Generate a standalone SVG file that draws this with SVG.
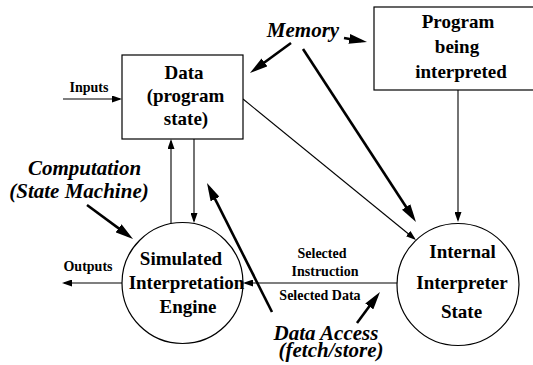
<svg xmlns="http://www.w3.org/2000/svg" width="533" height="365" viewBox="0 0 533 365">
<style>
.node{fill:#fff;stroke:#000;stroke-width:1.2}
.big{font-family:'Liberation Serif','DejaVu Serif','Noto Serif',serif;font-weight:bold;font-size:19px;text-anchor:middle;fill:#000}
.small{font-family:'Liberation Serif','DejaVu Serif','Noto Serif',serif;font-weight:bold;font-size:14px;text-anchor:middle;fill:#000}
.ital{font-family:'Liberation Serif','DejaVu Serif','Noto Serif',serif;font-weight:bold;font-style:italic;font-size:21px;text-anchor:middle;fill:#000}
.thin{stroke:#000;stroke-width:1.1;fill:none;marker-end:url(#ah)}
.thick{stroke:#000;stroke-width:2.6;fill:none;marker-end:url(#ahb)}
</style>
<defs>
<marker id="ah" markerUnits="userSpaceOnUse" markerWidth="10" markerHeight="7" refX="8" refY="3.5" orient="auto"><path d="M0,0 L10,3.5 L0,7 z" fill="#000"/></marker>
<marker id="ahb" markerUnits="userSpaceOnUse" markerWidth="18" markerHeight="10" refX="12" refY="5" orient="auto"><path d="M0,0 L18,5 L0,10 z" fill="#000"/></marker>
</defs>
<rect width="533" height="365" fill="#fff"/>
<g id="connectors">
<line class="thin" x1="63" y1="99" x2="120" y2="99"/>
<line class="thin" x1="122" y1="283" x2="64" y2="283"/>
<line class="thin" x1="398" y1="283" x2="245" y2="283"/>
<line class="thin" x1="171" y1="224" x2="171" y2="141"/>
<line class="thin" x1="194" y1="139" x2="194" y2="221"/>
<line class="thin" x1="458" y1="90" x2="458" y2="220"/>
<line class="thin" x1="243" y1="99" x2="414.4" y2="238.7"/>
<line class="thick" x1="291" y1="43" x2="254.8" y2="69.5"/>
<line class="thick" x1="344" y1="38" x2="361.1" y2="41"/>
<line class="thick" x1="303" y1="49" x2="412.7" y2="217"/>
<line class="thick" x1="87" y1="205" x2="128.2" y2="235.4"/>
<line class="thick" x1="272" y1="312" x2="209.7" y2="188.4"/>
<line class="thick" x1="357" y1="323" x2="376.4" y2="296.8"/>
</g>
<g id="data">
<rect class="node" x="122" y="55" width="121" height="84"/>
<text class="big" x="184" y="79">Data</text>
<text class="big" x="185.5" y="102">(program</text>
<text class="big" x="186" y="125">state)</text>
</g>
<g id="program">
<rect class="node" x="374" y="7" width="165" height="83"/>
<text class="big" x="458" y="28">Program</text>
<text class="big" x="457" y="53">being</text>
<text class="big" x="461" y="78">interpreted</text>
</g>
<g id="engine">
<circle class="node" cx="182.5" cy="283" r="60.5"/>
<text class="big" x="181" y="265">Simulated</text>
<text class="big" x="186.5" y="289">Interpretation</text>
<text class="big" x="188" y="313">Engine</text>
</g>
<g id="state">
<circle class="node" cx="458" cy="284.5" r="61"/>
<text class="big" x="462.5" y="258">Internal</text>
<text class="big" x="462" y="289">Interpreter</text>
<text class="big" x="461.5" y="318">State</text>
</g>
<g id="labels">
<text class="small" x="89" y="92">Inputs</text>
<text class="small" x="88" y="271">Outputs</text>
<text class="small" x="322" y="258">Selected</text>
<text class="small" x="325" y="276">Instruction</text>
<text class="small" x="320" y="300">Selected Data</text>
<text class="ital" x="303" y="36.5">Memory</text>
<text class="ital" x="84.5" y="175">Computation</text>
<text class="ital" x="79" y="198">(State Machine)</text>
<text class="ital" x="326" y="340">Data Access</text>
<text class="ital" x="331" y="357">(fetch/store)</text>
</g>
</svg>
